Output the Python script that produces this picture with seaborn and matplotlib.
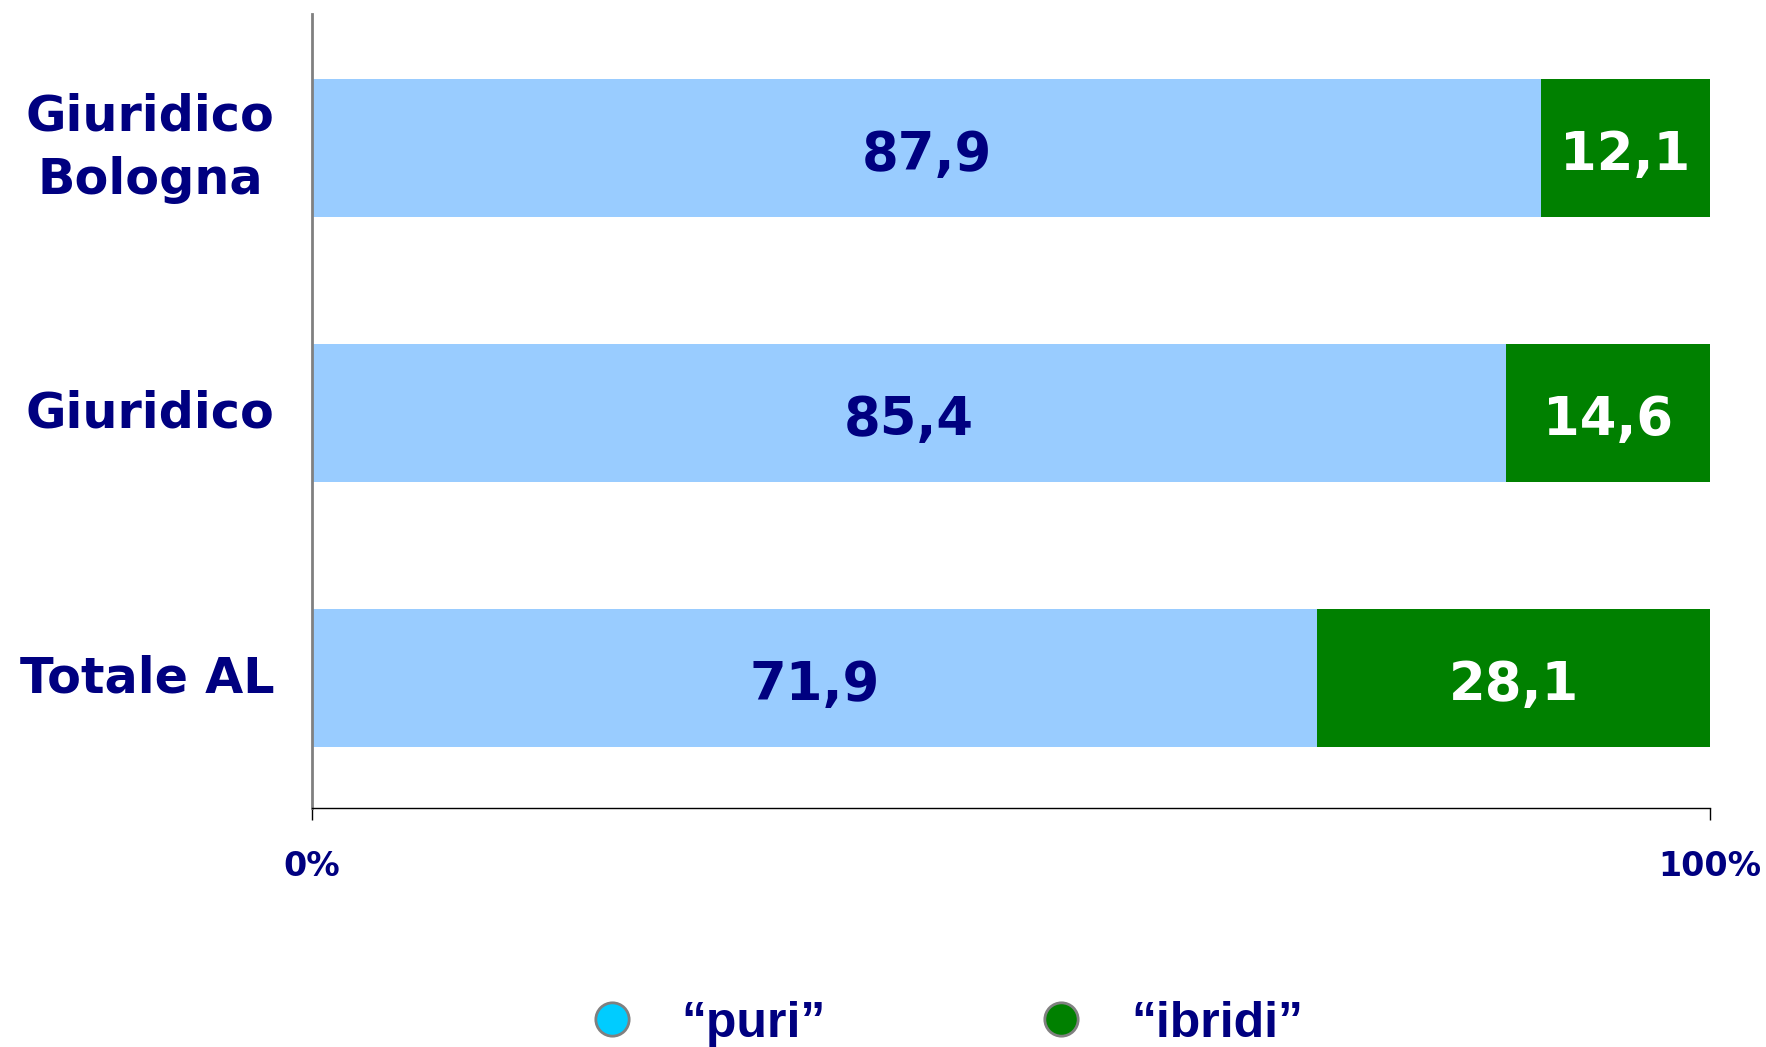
import numpy as np
import pandas as pd
import matplotlib
matplotlib.use("Agg")
import matplotlib.pyplot as plt
from matplotlib.lines import Line2D
import seaborn as sns

# dati
categorie = ["Giuridico\nBologna", "Giuridico", "Totale AL"]
puri = [87.9, 85.4, 71.9]
ibridi = [12.1, 14.6, 28.1]
etichette_x = ["0%", "100%"]

navy = "#000080"
azzurro = "#99CCFF"
verde = "#008000"

df = pd.DataFrame({"cat": categorie, "puri": puri, "ibridi": ibridi})
df["totale"] = df["puri"] + df["ibridi"]

sns.set_style("white")
plt.rcParams["font.family"] = ["DejaVu Sans"]

fig = plt.figure(figsize=(17.66, 10.47), dpi=100)
ax = fig.add_axes([0.1767, 0.2283, 0.7916, 0.7583])

# stacked: prima il totale (verde), poi i "puri" sopra
sns.barplot(data=df, y="cat", x="totale", color=verde, orient="h",
            width=0.52, saturation=1, linewidth=0, ax=ax)
sns.barplot(data=df, y="cat", x="puri", color=azzurro, orient="h",
            width=0.52, saturation=1, linewidth=0, ax=ax)

dy = 0.025  # le etichette stanno un filo sotto il centro
for i in range(len(categorie)):
    ax.text(puri[i] / 2, i + dy, f"{puri[i]:.1f}".replace(".", ","),
            ha="center", va="center", color=navy, fontsize=38, fontweight="bold")
    ax.text(puri[i] + ibridi[i] / 2, i + dy, f"{ibridi[i]:.1f}".replace(".", ","),
            ha="center", va="center", color="white", fontsize=38, fontweight="bold")

ax.set_xlim(0, 100)
ax.set_ylim(2.49, -0.506)
ax.set_xticks([0, 100])
ax.set_xticklabels(etichette_x, fontsize=24, fontweight="bold", color=navy)
ax.tick_params(axis="x", bottom=True, length=8.6, width=1, color="black", pad=22)
ax.tick_params(axis="y", left=False, length=0, pad=27)
for lab in ax.get_yticklabels():
    lab.set_fontsize(35.5)
    lab.set_fontweight("bold")
    lab.set_color(navy)
    lab.set_multialignment("center")
    lab.set_linespacing(1.4)
    lab.set_verticalalignment("center")
ax.set_xlabel("")
ax.set_ylabel("")

for s in ["top", "right"]:
    ax.spines[s].set_visible(False)
ax.spines["left"].set_color("#808080")
ax.spines["left"].set_linewidth(2)
ax.spines["bottom"].set_color("black")
ax.spines["bottom"].set_linewidth(1)

handles = [
    Line2D([], [], marker="o", linestyle="none", markersize=24,
           markerfacecolor="#00CCFF", markeredgecolor="#808080", markeredgewidth=2),
    Line2D([], [], marker="o", linestyle="none", markersize=24,
           markerfacecolor=verde, markeredgecolor="#808080", markeredgewidth=2),
]
leg = fig.legend(handles, ["\u201cpuri\u201d", "\u201cibridi\u201d"], loc="center",
                 bbox_to_anchor=(0.528, 0.022), ncol=2, frameon=False,
                 handletextpad=0.4, columnspacing=3.7,
                 prop={"family": "Liberation Sans", "weight": "bold", "size": 36})
for t in leg.get_texts():
    t.set_color(navy)

fig.savefig("out.png", dpi=100)
